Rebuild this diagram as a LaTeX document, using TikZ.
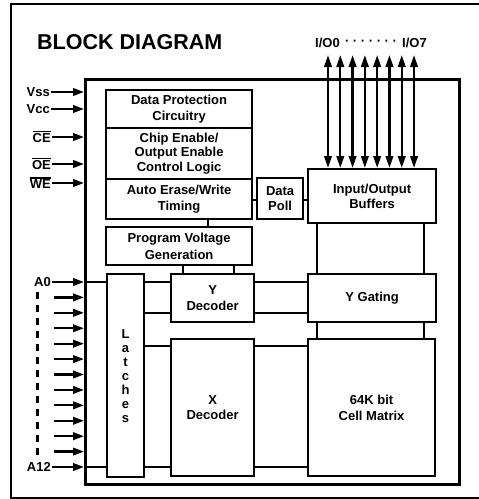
\documentclass[tikz,border=0pt]{standalone}
\usepackage{fontspec}
\setmainfont{Liberation Sans}
\usetikzlibrary{arrows.meta,calc}
\newcommand\ovbar[1]{\vbox{\hrule height 1.3pt\kern1.2pt\hbox{#1}}}
\begin{document}
\begin{tikzpicture}[x=1pt,y=-1pt,
  box/.style={draw,line width=2.2pt,anchor=north west,inner sep=0pt,align=center,font=\bfseries\fontsize{13}{16.5}\selectfont},
  wire/.style={line width=1.8pt},
  pin/.style={line width=2.3pt,-{Triangle[length=11pt,width=7.5pt]}},
  bus/.style={line width=2.3pt,{Triangle[length=12pt,width=7.5pt]}-{Triangle[length=12pt,width=7.5pt]}},
  lbl/.style={font=\bfseries\fontsize{13}{15}\selectfont,inner sep=1pt}]
\useasboundingbox (0,0) rectangle (479,499);
% outer frame
\draw[line width=1.3pt] (479,4) -- (11,4) -- (11,498) -- (479,498);
\node[font=\bfseries\fontsize{21.5}{25}\selectfont,anchor=west,inner sep=0pt] (title) at (37,42) {BLOCK DIAGRAM};
% chip frame
\node[draw,line width=3.2pt,anchor=north west,minimum width=374pt,minimum height=405pt,inner sep=0pt] (chip) at (84,78) {};
% control stack
\node[box,minimum width=146pt,minimum height=38pt] (dpc) at (105,89) {Data Protection\\Circuitry};
\node[box,minimum width=146pt,minimum height=51pt,font=\bfseries\fontsize{13}{14.5}\selectfont] (ceoe) at (105,127) {Chip Enable/\\Output Enable\\Control Logic};
\node[box,minimum width=146pt,minimum height=40pt] (aew) at (105,178) {Auto Erase/Write\\Timing};
\node[box,minimum width=146pt,minimum height=38pt] (pvg) at (105,226) {Program Voltage\\Generation};
\node[box,minimum width=46pt,minimum height=41pt,font=\bfseries\fontsize{13}{14.5}\selectfont] (dpoll) at (256,177) {Data\\Poll};
\node[box,minimum width=128pt,minimum height=54pt,font=\bfseries\fontsize{13}{15}\selectfont] (iob) at (307,168) {Input/Output\\Buffers};
\node[box,minimum width=83pt,minimum height=48pt] (ydec) at (170,273) {Y\\Decoder};
\node[box,minimum width=128pt,minimum height=48pt] (ygate) at (307,273) {Y Gating};
\node[box,minimum width=37pt,minimum height=203pt,font=\bfseries\fontsize{13}{14}\selectfont] (lat) at (106,273) {L\\a\\t\\c\\h\\e\\s};
\node[box,minimum width=83pt,minimum height=137pt,font=\bfseries\fontsize{13}{14.5}\selectfont] (xdec) at (170,338) {X\\Decoder};
\node[box,minimum width=127pt,minimum height=137pt] (cell) at (307,338) {64K bit\\Cell Matrix};
% helper levels
\coordinate (r0) at (0,200);
\coordinate (r1) at (0,282);
\coordinate (r2) at (0,313);
\coordinate (r3) at (0,346);
\coordinate (r4) at (0,467);
\coordinate (c1) at (208,0);
\coordinate (c2) at (183,0);
\coordinate (c3) at (234,0);
\coordinate (c4) at (317,0);
\coordinate (c5) at (424,0);
% internal wires
\draw[wire] (aew.south -| c1) -- (pvg.north -| c1);
\draw[wire] (pvg.south -| c2) -- (ydec.north -| c2);
\draw[wire] (pvg.south -| c3) -- (ydec.north -| c3);
\draw[wire] (aew.east |- r0) -- (dpoll.west |- r0);
\draw[wire] (dpoll.east |- r0) -- (iob.west |- r0);
\draw[wire] (iob.south -| c4) -- (ygate.north -| c4);
\draw[wire] (iob.south -| c5) -- (ygate.north -| c5);
\draw[wire] (ygate.south -| c4) -- (cell.north -| c4);
\draw[wire] (ygate.south -| c5) -- (cell.north -| c5);
\draw[wire] (chip.west |- r1) -- (lat.west |- r1);
\draw[wire] (chip.west |- r4) -- (lat.west |- r4);
\draw[wire] (lat.east |- r1) -- (ydec.west |- r1);
\draw[wire] (lat.east |- r2) -- (ydec.west |- r2);
\draw[wire] (lat.east |- r3) -- (xdec.west |- r3);
\draw[wire] (lat.east |- r4) -- (xdec.west |- r4);
\draw[wire] (ydec.east |- r1) -- (ygate.west |- r1);
\draw[wire] (ydec.east |- r2) -- (ygate.west |- r2);
\draw[wire] (xdec.east |- r3) -- (cell.west |- r3);
\draw[wire] (xdec.east |- r4) -- (cell.west |- r4);
% control pins
\node[lbl,anchor=east] (vss) at (51,92) {Vss};
\node[lbl,anchor=east] (vcc) at (51,109) {Vcc};
\node[lbl,anchor=east] (ce) at (52,137) {\ovbar{CE}};
\node[lbl,anchor=east] (oe) at (52,164) {\ovbar{OE}};
\node[lbl,anchor=east] (we) at (52,183) {\ovbar{WE}};
\foreach \p in {vss,vcc,ce,oe,we}
  \draw[pin] (\p.east) -- (\p.east -| chip.west);
% address pins
\node[lbl,anchor=east] (a0) at (52,282) {A0};
\node[lbl,anchor=east] (a12) at (52,467) {A12};
\draw[pin] (a0.east) -- (a0.east -| chip.west);
\draw[pin] (a12.east) -- (a12.east -| chip.west);
\foreach \i in {1,...,11}{
  \coordinate (ad\i) at (54,282+\i*15.4167);
  \draw[pin] (ad\i) -- (ad\i -| chip.west);
}
\coordinate (dtop) at (37,292);
\coordinate (dbot) at (37,458);
\draw[line width=3pt,dash pattern=on 7pt off 6pt] (dtop) -- (dbot);
% I/O bus
\foreach \i in {0,...,7}{
  \coordinate (io\i) at (328+\i*12.29,55);
  \draw[bus] (io\i) -- (io\i |- iob.north);
}
\node[lbl,anchor=east] (io0lbl) at (341,43) {I/O0};
\node[lbl] (iodots) at (371,43) {· · · · · · ·};
\node[lbl,anchor=west] (io7lbl) at (401,43) {I/O7};
\end{tikzpicture}
\end{document}
